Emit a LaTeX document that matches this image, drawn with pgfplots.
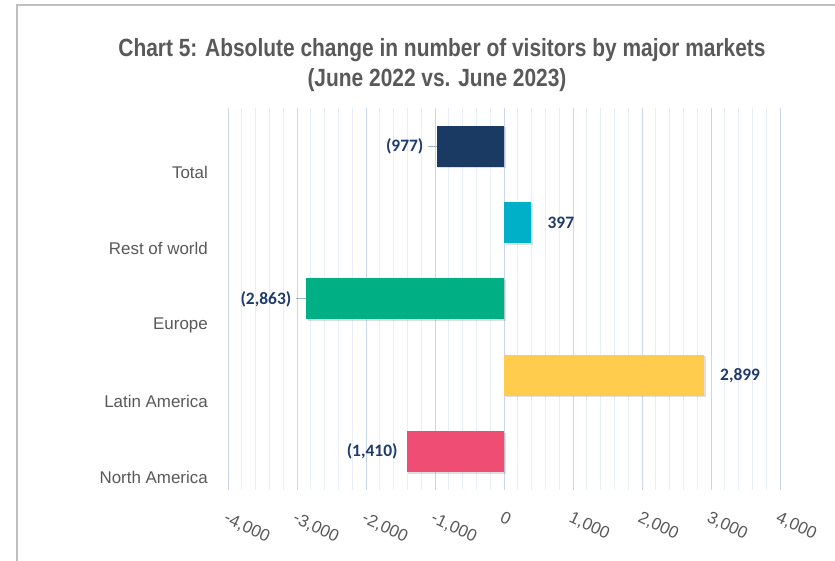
\documentclass[border=0pt]{standalone}
\usepackage{pgfplots}
\pgfplotsset{compat=1.18}
\usetikzlibrary{shadows}
\usepackage{fontspec}
\setmainfont{Liberation Sans}
\newfontfamily\titlefont[FakeStretch=0.84]{Liberation Sans}
\newfontfamily\lblfont{Carlito}
\definecolor{navy}{HTML}{1A3A63}
\definecolor{teal}{HTML}{00B0C8}
\definecolor{green}{HTML}{00B084}
\definecolor{yellow}{HTML}{FFCC4D}
\definecolor{pink}{HTML}{EF4D74}
\definecolor{lblblue}{HTML}{1F3B6B}
\definecolor{txtgray}{HTML}{595959}
\definecolor{majgrid}{HTML}{C9D7EC}
\definecolor{mingrid}{HTML}{E8EEF6}
\definecolor{leader}{HTML}{9DB4D6}
\begin{document}
\begin{tikzpicture}
\useasboundingbox (0,0) rectangle (835bp,561bp);
\clip (0,0) rectangle (835bp,561bp);
\fill[white] (0,0) rectangle (835bp,561bp);
\draw[color=black!25, line width=1.5bp] (17bp,-10bp) rectangle (845bp,556bp);
\node[anchor=base, text=txtgray, inner sep=0pt] at (442bp,504bp) {\titlefont\bfseries\fontsize{25}{28}\selectfont Chart 5: Absolute change in number of visitors by major markets};
\node[anchor=base, text=txtgray, inner sep=0pt] at (437bp,474bp) {\titlefont\bfseries\fontsize{25}{28}\selectfont (June 2022 vs. June 2023)};
\begin{axis}[
  at={(228bp,71bp)}, anchor=south west,
  scale only axis, width=552bp, height=382bp,
  xmin=-4000, xmax=4000, ymin=-0.5, ymax=4.5,
  xtick={-4000,-3000,-2000,-1000,0,1000,2000,3000,4000},
  xticklabels={{-4,000},{-3,000},{-2,000},{-1,000},{0},{1,000},{2,000},{3,000},{4,000}},
  minor x tick num=4,
  xmajorgrids, xminorgrids,
  major grid style={color=majgrid, line width=1bp},
  minor grid style={color=mingrid, line width=1bp},
  ytick={0,1,2,3,4},
  yticklabels={North America, Latin America, Europe, Rest of world, Total},
  major tick length=0pt, minor tick length=0pt,
  axis line style={draw=none},
  tick style={draw=none},
  yticklabel style={anchor=east, inner sep=0pt, xshift=-20bp, yshift=-26bp, text=txtgray, font=\fontsize{17}{20}\selectfont},
  xticklabel style={anchor=north west, inner sep=0pt, yshift=-21bp, xshift=0bp, rotate=-25, text=txtgray, font=\fontsize{17}{20}\selectfont},
  every node near coord/.append style={text=lblblue, inner sep=0pt, font=\lblfont\bfseries\fontsize{17.5}{20}\selectfont},
  clip=false,
]
\addplot[xbar, bar width=41bp, bar shift=0pt, fill=navy, draw=none,
  drop shadow={shadow xshift=1.5bp, shadow yshift=-1.5bp, opacity=0.25},
  nodes near coords={(977)}, nodes near coords style={anchor=east, xshift=-13bp}]
  coordinates {(-977,4)};
\addplot[xbar, bar width=41bp, bar shift=0pt, fill=teal, draw=none,
  drop shadow={shadow xshift=1.5bp, shadow yshift=-1.5bp, opacity=0.25},
  nodes near coords={397}, nodes near coords style={anchor=west, xshift=16bp}]
  coordinates {(397,3)};
\addplot[xbar, bar width=41bp, bar shift=0pt, fill=green, draw=none,
  drop shadow={shadow xshift=1.5bp, shadow yshift=-1.5bp, opacity=0.25},
  nodes near coords={(2,863)}, nodes near coords style={anchor=east, xshift=-15bp}]
  coordinates {(-2863,2)};
\addplot[xbar, bar width=41bp, bar shift=0pt, fill=yellow, draw=none,
  drop shadow={shadow xshift=1.5bp, shadow yshift=-1.5bp, opacity=0.25},
  nodes near coords={2,899}, nodes near coords style={anchor=west, xshift=16bp}]
  coordinates {(2899,1)};
\addplot[xbar, bar width=41bp, bar shift=0pt, fill=pink, draw=none,
  drop shadow={shadow xshift=1.5bp, shadow yshift=-1.5bp, opacity=0.25},
  nodes near coords={(1,410)}, nodes near coords style={anchor=east, xshift=-9bp}]
  coordinates {(-1410,0)};
\draw[color=leader, line width=1bp] (axis cs:-977,4) -- ([xshift=-9bp]axis cs:-977,4);
\draw[color=leader, line width=1bp] (axis cs:-2863,2) -- ([xshift=-10bp]axis cs:-2863,2);
\end{axis}
\end{tikzpicture}
\end{document}
